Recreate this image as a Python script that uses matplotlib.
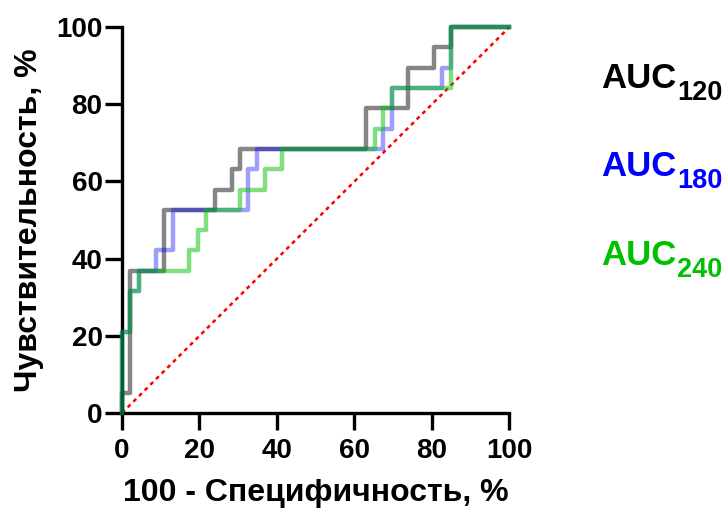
import matplotlib
matplotlib.use("Agg")
import matplotlib.pyplot as plt

plt.rcParams['font.family'] = ['Liberation Sans', 'DejaVu Sans']
plt.rcParams['font.weight'] = 'bold'

# ROC points (100 - specificity %, sensitivity %)
fpr_120 = [0, 0, 2.17, 10.87, 23.91, 28.26, 30.43, 63.04, 73.91, 80.43, 84.78, 100]
tpr_120 = [0, 5.26, 36.84, 52.63, 57.89, 63.16, 68.42, 78.95, 89.47, 94.74, 100, 100]

fpr_180 = [0, 0, 2.17, 4.35, 8.70, 13.04, 32.61, 34.78, 67.39, 69.57, 82.61, 84.78, 100]
tpr_180 = [0, 21.05, 31.58, 36.84, 42.11, 52.63, 63.16, 68.42, 73.68, 84.21, 89.47, 100, 100]

fpr_240 = [0, 0, 2.17, 4.35, 17.39, 19.57, 21.74, 30.43, 36.96, 41.30, 65.22, 67.39, 69.57, 84.78, 100]
tpr_240 = [0, 21.05, 31.58, 36.84, 42.11, 47.37, 52.63, 57.89, 63.16, 68.42, 73.68, 78.95, 84.21, 100, 100]

ref_x = [0, 100]
ref_y = [0, 100]

ticks = [0, 20, 40, 60, 80, 100]
labels = ["AUC", "AUC", "AUC"]
subs = ["120", "180", "240"]
text_colors = ["#000000", "#0000ff", "#00c000"]

W, H = 728, 515
fig = plt.figure(figsize=(W / 100, H / 100), dpi=100)
ax = fig.add_axes([122 / W, 1 - 413 / H, (509.5 - 122) / W, (413 - 27) / H])

ax.plot(fpr_120, tpr_120, drawstyle='steps-post', color='black', alpha=0.48, lw=3.2, clip_on=False, zorder=3)
ax.plot(fpr_180, tpr_180, drawstyle='steps-post', color='#0000ff', alpha=0.38, lw=3.2, clip_on=False, zorder=4)
ax.plot(fpr_240, tpr_240, drawstyle='steps-post', color='#00c000', alpha=0.5, lw=3.2, clip_on=False, zorder=5)
ax.plot(ref_x, ref_y, color='red', lw=1.8, linestyle=(0, (1.6, 1.6)), zorder=2)

ax.set_xlim(0, 100)
ax.set_ylim(0, 100)
ax.set_xticks(ticks)
ax.set_yticks(ticks)
ax.set_xticklabels([str(t) for t in ticks], fontsize=20, fontweight='bold')
ax.set_yticklabels([str(t) for t in ticks], fontsize=20, fontweight='bold')
for s in ['top', 'right']:
    ax.spines[s].set_visible(False)
for s in ['left', 'bottom']:
    ax.spines[s].set_linewidth(2.4)
ax.tick_params(axis='both', width=2.4, length=12)
ax.tick_params(axis='x', pad=6)
ax.tick_params(axis='y', pad=2)

ax.set_xlabel("100 - Специфичность, %", fontsize=23, fontweight='bold', labelpad=10)
ax.set_ylabel("Чувствительность, %", fontsize=23, fontweight='bold', labelpad=9)

baselines = [88, 176, 265]
fig.canvas.draw()
r = fig.canvas.get_renderer()
for lab, sub, col, yb in zip(labels, subs, text_colors, baselines):
    t = fig.text(601 / W, 1 - yb / H, lab, fontsize=25, fontweight='bold', color=col,
                 ha='left', va='baseline')
    bb = t.get_window_extent(renderer=r)
    fig.text((bb.x1 + 1) / W, 1 - (yb + 12) / H, sub, fontsize=19.5, fontweight='bold',
             color=col, ha='left', va='baseline')

fig.savefig("out.png", dpi=100)
